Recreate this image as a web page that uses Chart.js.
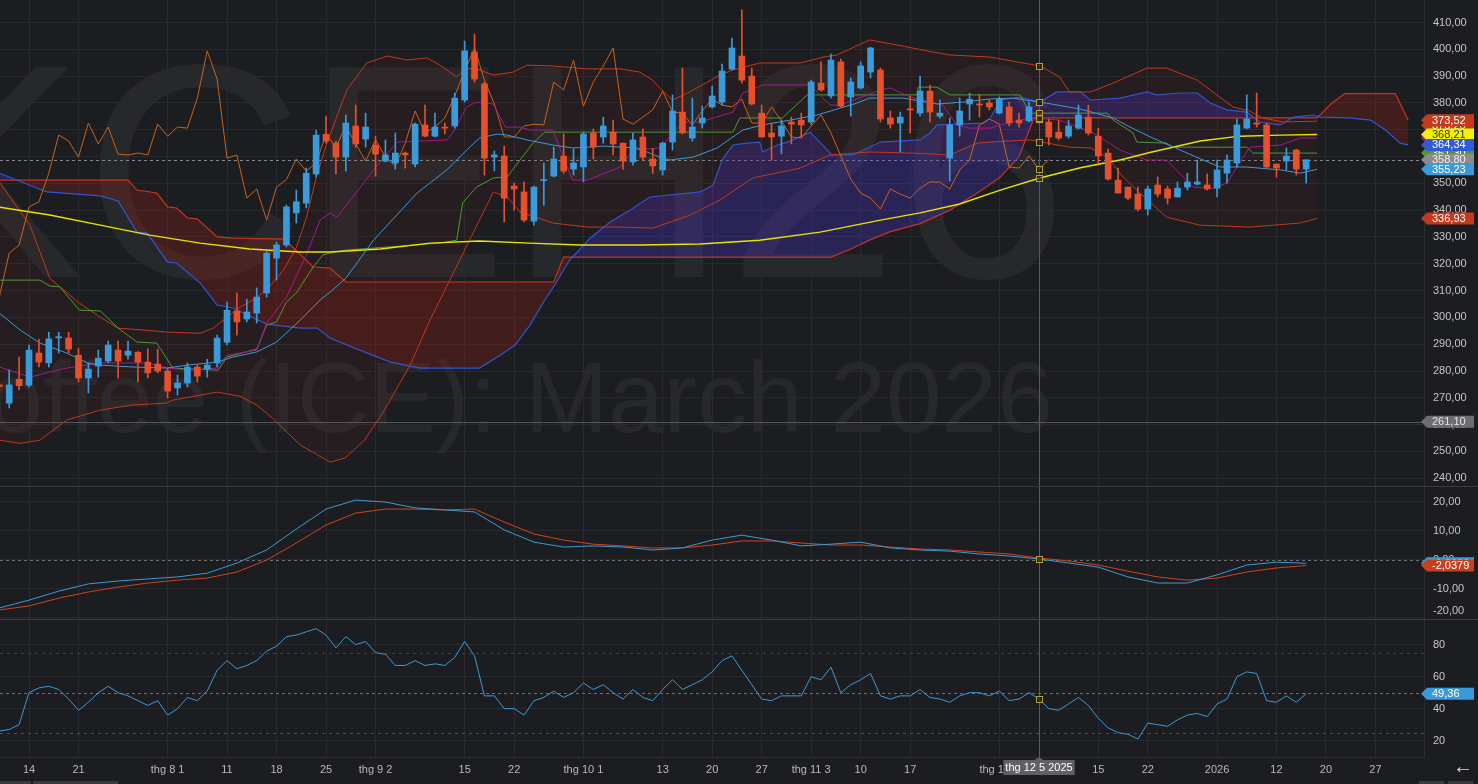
<!DOCTYPE html>
<html>
<head>
<meta charset="utf-8">
<title>KCEH26 - Coffee (ICE): March 2026</title>
<script src="https://cdn.jsdelivr.net/npm/chart.js@4.4.1/dist/chart.umd.min.js"></script>
<style>
  html, body { margin:0; padding:0; background:#1c1d21; }
  #wrap { position:relative; width:1478px; height:784px; overflow:hidden; background:#1c1d21; font-family:"Liberation Sans", Arial, sans-serif; }
  canvas { position:absolute; left:0; display:block; }
  #c1 { top:0; }
  #c2 { top:487px; }
  #c3 { top:620px; }
  .sep { position:absolute; left:0; width:1478px; height:1px; background:#3b3c41; }
  .sbar { position:absolute; height:3px; top:781px; background:#3a3b3f; }
  #arrow { position:absolute; left:1453px; top:755px; color:#dcdcdc; font-size:20px; line-height:22px; }
</style>
</head>
<body>
<div id="wrap">
  <canvas id="c1" width="1478" height="486"></canvas>
  <div class="sep" style="top:486px"></div>
  <canvas id="c2" width="1478" height="132"></canvas>
  <div class="sep" style="top:619px"></div>
  <canvas id="c3" width="1478" height="164"></canvas>
  <div class="sbar" style="left:0;width:31px"></div>
  <div class="sbar" style="left:33px;width:85px"></div>
  <div class="sbar" style="left:1419px;width:25px"></div>
  <div class="sbar" style="left:1448px;width:25px"></div>
  <div id="arrow">←</div>
</div>
<script>
// ---------------- DATA ----------------
const symbolText = "KCEH26";
const nameText = "Coffee (ICE): March 2026";

// trading-day index of x tick labels and their text
const xTickIdx  = [3, 8, 17, 23, 28, 33, 38, 47, 52, 59, 67, 72, 77, 82, 87, 92, 101, 111, 116, 123, 129, 134, 139];
const xTickText = ['14','21','thg 8 1','11','18','25','thg 9 2','15','22','thg 10 1','13','20','27','thg 11 3','10','17','thg 12 1','15','22','2026','12','20','27'];
const crossIdx = 105;
const crossLabel = 'thg 12 5 2025';

const priceTicks = [240,250,260,270,280,290,300,310,320,330,340,350,360,370,380,390,400,410];
const macdTicks = [-20,-10,0,10,20];
const rsiTicks = [20,40,60,80];

// daily candles (index 0 = 9 Jul 2025 ... 132 = 15 Jan 2026)
const open = [
 274.8,268.0,276.9,274.7,286.7,283.0,292.4,292.3,285.9,277.4,
 281.8,283.7,287.8,285.9,287.0,283.3,282.6,280.0,273.7,275.5,
 281.5,280.7,283.0,290.7,302.4,299.4,301.6,309.1,322.1,327.0,
 339.0,342.6,353.5,368.3,365.0,359.8,371.4,366.5,364.3,358.3,
 357.6,361.3,357.2,371.8,367.6,371.0,371.4,381.1,399.0,387.1,
 359.8,360.2,349.0,346.8,335.9,351.0,352.7,360.2,355.3,356.1,
 368.8,367.3,369.1,365.0,358.0,367.3,359.1,355.0,365.4,376.6,
 366.9,372.5,378.5,380.3,392.6,397.5,390.0,376.2,368.8,367.6,
 372.9,373.6,372.9,387.4,382.6,395.3,382.2,385.6,391.5,392.3,
 374.4,372.5,377.8,376.2,384.4,375.1,359.4,371.8,379.6,379.6,
 380.0,376.2,378.5,373.6,373.3,376.2,372.9,369.1,367.6,370.6,
 374.7,367.6,361.3,351.2,348.6,346.0,340.4,349.4,347.9,344.9,
 348.6,349.7,349.4,348.2,353.8,357.6,370.6,372.5,371.8,357.2,
 358.3,362.4,355.3];
const high = [
 276.0,280.4,285.2,289.7,291.9,294.5,294.5,294.5,288.5,283.0,
 287.8,291.2,291.2,291.2,287.2,288.2,288.2,281.1,278.5,283.0,
 282.2,284.4,293.4,305.7,309.1,306.8,311.0,324.7,328.1,341.9,
 347.5,355.7,369.9,375.1,365.8,375.5,379.2,376.2,367.6,366.2,
 368.8,361.7,372.5,379.2,376.2,372.5,383.7,403.1,405.7,387.8,
 362.1,363.9,350.1,350.5,349.0,357.6,363.5,368.4,362.8,369.1,
 370.3,374.7,373.6,365.0,368.8,370.3,363.0,365.4,383.0,393.0,
 381.8,378.8,386.3,394.5,404.2,414.7,393.0,379.2,372.5,373.6,
 374.7,376.2,388.5,395.3,398.2,396.4,389.3,395.3,400.8,393.0,
 377.0,376.6,382.6,390.0,386.7,381.1,374.4,381.8,383.7,383.0,
 381.4,382.2,380.3,376.2,380.3,377.4,374.0,373.6,373.6,379.2,
 379.2,370.6,362.8,355.7,348.6,348.6,349.0,352.4,349.0,350.5,
 353.8,358.7,353.5,358.7,360.6,374.0,383.0,383.7,372.5,357.2,
 363.2,362.8,358.7];
const low = [
 272.5,266.2,272.9,274.0,281.5,281.5,286.7,286.7,275.9,271.8,
 277.7,283.0,277.4,284.4,275.9,277.4,279.3,269.9,271.0,274.0,
 275.9,277.7,281.5,289.7,293.4,298.3,297.9,307.6,313.9,326.3,
 335.2,340.8,352.4,365.0,353.5,354.6,363.5,363.5,352.7,358.0,
 355.3,355.7,356.1,367.3,367.3,368.4,370.6,380.3,387.8,353.1,
 354.6,335.6,340.0,335.6,334.4,341.9,352.4,353.8,353.1,350.5,
 359.1,365.0,360.6,355.3,356.8,358.7,353.7,353.1,362.4,368.4,
 365.8,370.6,378.1,379.2,392.3,387.4,379.2,367.3,358.7,361.0,
 364.7,367.3,372.1,384.4,381.8,378.5,375.1,385.2,389.3,372.9,
 370.6,361.7,368.8,375.1,372.9,374.4,350.9,367.6,373.6,374.7,
 377.4,375.9,371.4,371.0,372.9,372.5,364.3,366.2,366.9,370.3,
 368.0,357.6,351.2,346.4,343.8,339.7,338.2,344.9,342.3,344.9,
 347.5,349.4,347.5,344.9,350.1,356.1,370.3,371.0,355.7,352.4,
 355.0,353.1,350.1];
const close = [
 274.2,274.8,274.5,287.8,283.3,292.0,292.8,288.2,277.4,280.7,
 284.8,289.7,283.7,287.4,283.3,279.3,280.0,272.5,275.5,281.5,
 278.1,282.2,292.3,302.7,298.3,302.0,307.6,324.0,327.0,341.2,
 343.1,353.8,368.0,365.8,359.8,372.5,364.7,371.0,360.9,360.6,
 361.3,360.6,372.1,367.6,371.0,370.6,381.8,399.4,388.9,359.4,
 360.6,344.5,347.9,336.3,348.6,351.4,359.1,354.6,357.6,368.4,
 363.5,371.4,364.7,358.3,366.2,359.8,356.5,365.0,377.0,368.8,
 371.0,374.4,382.6,391.9,400.5,388.5,379.6,367.3,367.3,371.4,
 372.1,371.8,387.8,384.8,396.0,378.8,387.8,393.8,400.5,374.0,
 372.1,374.7,377.4,384.4,376.6,376.2,371.8,377.0,381.4,379.2,
 378.5,381.4,372.5,372.5,378.5,373.3,367.3,366.9,371.4,375.5,
 368.8,360.2,351.6,346.4,344.5,340.4,347.9,346.0,344.5,348.2,
 350.5,350.5,347.9,355.0,358.7,371.8,374.0,372.1,356.1,355.7,
 360.2,355.3,358.8];

const chikouShift = 26;
const supportLevel = 261.10;

// indicator lines: [trading-day index, value]
const senkouA = [[0,353.8],[4.8,346.8],[10.2,345.3],[12,343.4],[13.9,331.8],[14.9,331.5],[17,320.6],[17.9,320.3],[20.3,312.8],[22,304.6],[23.6,303.5],[27,297.5],[30.4,296],[32.1,296],[33.4,292.3],[36.4,287.8],[39.5,283.3],[42.5,281.1],[48.5,281.1],[50.6,285.9],[52.1,289.7],[53.6,297.1],[55.1,306.5],[56.1,312.1],[57.6,321.4],[59.7,329.6],[61.7,335.6],[63.7,340],[65.7,344.9],[70.8,346.8],[72.1,349.4],[73,358.7],[74.1,364.3],[75.5,365],[76.8,365.4],[77.1,361.7],[78.6,364.3],[79.6,365.4],[81.9,369.1],[84.1,360.6],[86.2,360.6],[89,365.4],[93,366.2],[94,368.8],[94.7,371.8],[99.4,372.5],[100.1,374.4],[101.1,381.1],[103.1,382.2],[105.1,380.3],[106.8,384.1],[109.2,384.1],[110.2,381.1],[113.2,381.8],[115.9,384.1],[116.9,383],[119.3,383.7],[121,383.7],[122.3,380],[124,377.4],[126,376.6],[127.3,372.9],[129.4,371.8],[130.7,374.7],[132.7,375.5],[133.4,374.7],[136.4,374.4],[138.5,373.6],[140,369.9],[141.5,365],[142.3,364.34]];
const senkouB = [[0,351.2],[13,351.2],[13.9,347.5],[15.9,346.4],[17,341.2],[17.9,340.8],[19,337.1],[20,336.7],[22,330],[23.6,329.6],[28.7,329.2],[29.4,327],[31.7,318.8],[33.4,318.4],[35,313.2],[56,313.2],[57,322.5],[84,322.5],[86,325.5],[88,329],[90,332],[93,335],[96,340],[99,347],[101,352],[103,360],[104.5,374.4],[133.1,374.4],[134.5,379.6],[135.9,383.5],[141,383.5],[142.3,373.52]];
const tenkan = [[0,281.5],[3.1,277.7],[5.1,279.6],[6.8,281.1],[10.2,283],[14.9,283],[17,281.1],[19,280.3],[22,281.1],[23,285.9],[26,287.8],[27,297.9],[29,307.6],[31.1,324],[32.4,336.3],[33.4,338.9],[34.1,337.4],[35.7,344.9],[37.8,355],[40.2,365.4],[45.2,366.2],[45.8,368.8],[47.2,378.5],[48.2,380.3],[49.9,379.6],[51.1,371],[52.6,371],[53.6,369.9],[55.9,369.9],[57.9,351.2],[59.4,351.2],[62.7,356.1],[64,362.4],[66.7,363.2],[69.1,372.9],[70.8,372.9],[74.1,376.6],[75.1,383.7],[77.1,386.7],[81.9,386.7],[83.9,379.2],[84.9,379.2],[89,384.8],[90,385.6],[92,382.2],[95.3,379.2],[96.7,371.8],[98,370.6],[100.1,370.6],[101.1,371.8],[104.1,374.4],[107.1,373.6],[110.5,368.8],[113.2,362.4],[115.9,358.7],[117.9,358.7],[120.6,348.6],[122.6,348.2],[124,350.1],[125,356.1],[126.3,363.5],[129.4,364.3],[131.4,366.9],[133.1,366.9]];
const kijun = [[0,313.9],[4.1,313.9],[5.1,311.7],[6.1,311.4],[8.1,302.7],[10.2,302.4],[12,296],[13.9,290.8],[15.9,290.4],[17,284.1],[17.5,281.1],[22.1,280.3],[23,285.2],[26,288.2],[27,297.1],[28,298.3],[29,305.7],[30,309.1],[31.7,318.8],[32.7,323.3],[33.4,324],[35,325.1],[44.5,327.7],[46.2,328.8],[46.8,342.7],[48.2,348.6],[49.9,352],[51.3,352.4],[52.6,358.7],[53.9,365],[55.1,369.1],[74.1,369.1],[74.8,374.4],[79.1,374.4],[81.6,383],[92.7,383],[92.8,385.9],[94.7,385.9],[96,383],[103.1,383],[104.1,376.2],[111.9,376.2],[112.5,373.6],[114.5,368.8],[114.9,365.4],[117.9,365],[118.5,363.5],[126,363.5],[126.6,361.3],[133.1,361.3]];
const bbUpper = [[0,350.5],[3.1,334.4],[5.1,314.6],[8.1,305.3],[10.2,300.1],[12,296],[14.5,295.3],[17,294.5],[20.3,294.1],[21.6,296],[23,300.1],[24.3,303.8],[25.6,306.5],[27,310.2],[28.7,317.7],[30,326],[31,337],[32,352],[33,364],[34,374],[35.1,384.8],[37.1,394.9],[39.2,397.5],[41.2,396],[43.2,396.8],[44.5,394.1],[46.2,389.7],[47.2,393],[48.5,392.3],[49.9,390.4],[51.9,391.5],[53.3,394.1],[55.9,393.8],[59.4,392.7],[62.7,392.7],[64.7,391.5],[66,388.5],[66.7,385.6],[68,381.1],[69.5,383.7],[71,386.7],[72.8,390.4],[74.1,392.3],[76.8,394.9],[80.9,394.9],[83.2,397.1],[84.6,397.9],[87.9,403.5],[90.7,401.6],[94.3,399],[96,397.9],[100.1,397.1],[103.4,394.9],[105.1,393.8],[107.1,389.7],[108.1,384.1],[110.2,384.1],[112.5,387.4],[115.9,393],[117.9,393],[121,388.5],[124.6,378.5],[126.3,377],[127.6,374.4],[129.7,372.9],[133.1,373.2]];
const bbLower = [[0,254.2],[2.1,253],[4.1,254.2],[6.8,261.7],[10.2,265.4],[13.4,267.3],[16.9,268],[17.5,269.1],[22,272.1],[24.3,270.6],[26,267.3],[27.6,262.4],[30.4,252.4],[33.4,246],[34.9,247.5],[36.9,254.2],[38.9,265.4],[41.5,282.2],[43.5,299],[45.5,313.9],[47.5,328.8],[49.9,346.8],[51.3,344.9],[52.6,339.3],[55.9,335.2],[59.4,333.7],[62.7,333.7],[66,333.3],[69.8,338.2],[72.8,343.8],[76.1,352],[80.9,355.7],[83.9,360.6],[87.9,361.7],[92,361.3],[96,360.6],[98.8,365],[100.1,365.4],[104.1,366.2],[108.1,363.5],[110.2,363.2],[111.9,359.8],[113.5,352.4],[115.2,346.4],[117.9,337.4],[121.3,334.4],[126.3,333.7],[131.4,335.2],[133.1,336.93]];
const sma20 = [[0,301.6],[2.1,295.3],[4.1,290.4],[6.8,286.7],[8.9,283],[10.2,282.2],[13.4,281.5],[16.9,281.1],[19,282.2],[22,283.3],[23.6,285.2],[26,287.1],[28,290.8],[30.4,299],[32.4,306.5],[33.4,309.4],[35,314.6],[37.8,328.8],[42.2,346.4],[45.2,355],[47.2,362.4],[48.5,366.9],[50.3,368.4],[51.3,368],[53.3,366.2],[55.9,364.3],[57.9,363.2],[61,363.9],[64.4,363.2],[66.7,359.8],[67.7,358.7],[70.1,359.8],[72.5,363.2],[75.1,369.9],[77.1,371.8],[79.9,373.6],[82.6,375.5],[84.6,377.7],[86.6,379.9],[87.9,381.8],[91.3,381.8],[94.7,379.6],[97.3,380.3],[100.1,381.5],[102.4,381.8],[105.8,379.9],[109.2,377.7],[112.5,374.4],[114.2,371],[116.5,366.9],[119.3,362.4],[121.6,358.7],[123.3,356.1],[126,356.1],[129.4,355],[131.4,353.8],[133.1,355.23]];
const smaLong = [[0,341.1],[5.1,338.2],[10.2,334.4],[15.2,330.7],[20.3,327.7],[25.3,325.5],[30.4,324.4],[33.4,324.4],[38.5,325.5],[43.5,327.7],[48.5,328.5],[53.6,327.7],[58.6,327],[64.7,327],[70.8,327.4],[76.8,328.8],[82.9,331.8],[89,336.3],[93,339],[97,342.3],[101.1,347.5],[105.1,352],[109.2,355.8],[113.2,358.7],[116.2,361.5],[121.3,365.8],[125.3,367.6],[129.4,368],[133.1,368.21]];

// MACD (every 3rd trading day, last = day 132)
const macdLine = [-16.7,-14,-10.9,-8.4,-7.4,-6.7,-6,-4.7,-1.2,3.3,10.5,17.4,20.5,19.8,17.8,17.1,16.4,10.2,6,4.3,4.7,4.3,3.3,4,6.7,8.4,6.7,4.7,5.3,6,4,3.3,2.9,1.9,1.2,0.2,-1.2,-2.6,-6,-8.1,-8.1,-5.3,-1.9,-0.9,-1.3];
const macdSignal = [-17.4,-16,-13.3,-11.2,-9.5,-8.1,-7.1,-6.4,-4.3,-0.2,5.7,11.9,16,17.4,17.4,17.1,17.4,12.9,8.8,6.7,5.3,4.7,4,4,5,6.4,6.4,5.7,5,5,4.3,3.6,3.3,2.6,1.9,0.5,-0.5,-1.9,-4,-6,-7.1,-6.4,-4.3,-2.9,-2.0379];
const macdStep = 3;

// RSI per trading day
const rsi = [
 26,27,30,50,53,54,52,46,39,44,
 50,54,50,48,45,42,45,36,40,47,
 45,51,64,70,65,67,70,76,79,85,
 86,88,90,86,78,85,80,82,75,74,
 67,67,70,67,68,67,72,82,73,48,
 48,40,40,36,45,47,51,47,50,56,
 52,55,50,46,52,47,45,52,58,52,
 55,58,63,70,73,64,55,46,45,48,
 48,48,60,58,66,50,55,58,62,48,
 46,48,48,52,47,46,44,48,50,50,
 48,51,45,46,50,46,40,39,43,47,
 42,34,28,25,24,21,31,30,29,33,
 36,37,35,43,46,60,63,62,45,44,
 48,44,49.36];
const rsiLevels = [75, 50, 25];

// ---------------- STYLE ----------------
const GRID = '#292a2e';
const AXIS_W = 54;
const X_MIN = 0.07, X_MAX = 143.9;
const UP = '#3b9ad9', DOWN = '#e5502d';
const FONT = '"Liberation Sans", Arial, sans-serif';

Chart.defaults.font.family = FONT;
Chart.defaults.font.size = 11;
Chart.defaults.color = '#c4c4c4';

const fmt2 = v => v.toFixed(2).replace('.', ',');
const pairs = arr => arr.map(p => ({x: p[0], y: p[1]}));
const noPad = s => { s.paddingTop = 0; s.paddingBottom = 0; s.paddingLeft = 0; s.paddingRight = 0; };

function xAxis(showLabels) {
  return {
    type: 'linear', min: X_MIN, max: X_MAX, offset: false,
    grid: {color: GRID, drawTicks: false, offset: false},
    border: {display: showLabels, color: '#2c2d31'},
    afterBuildTicks: s => { s.ticks = xTickIdx.map(v => ({value: v})); },
    afterFit: s => { s.height = showLabels ? 27 : 0; noPad(s); },
    ticks: {display: showLabels, autoSkip: false, maxRotation: 0, minRotation: 0,
      color: '#b9b9b9', padding: 6,
      callback: v => { const k = xTickIdx.indexOf(v); return k >= 0 ? xTickText[k] : ''; }}
  };
}
function yAxis(min, max, ticks, cb) {
  return {
    position: 'right', min, max,
    afterFit: s => { s.width = AXIS_W; noPad(s); },
    afterBuildTicks: s => { s.ticks = ticks.map(v => ({value: v})); },
    grid: {color: GRID, drawTicks: false},
    border: {display: true, color: '#2c2d31'},
    ticks: {color: '#c6c6c6', padding: 9, callback: cb}
  };
}
const baseOpts = {
  responsive: false, animation: false, devicePixelRatio: 1, events: [],
  layout: {padding: 0},
  plugins: {legend: {display: false}, tooltip: {enabled: false}},
  elements: {point: {radius: 0}, line: {tension: 0, borderWidth: 1}}
};

function valueAt(data, x) {
  for (let i = 0; i < data.length - 1; i++) {
    const a = data[i], b = data[i + 1];
    if (a.x <= x && b.x >= x) {
      const t = b.x === a.x ? 0 : (x - a.x) / (b.x - a.x);
      return a.y + t * (b.y - a.y);
    }
  }
  return null;
}
function drawTag(ctx, y, text, bg, fg) {
  const x0 = 1421, h = 12;
  ctx.save();
  ctx.fillStyle = bg;
  ctx.beginPath();
  ctx.moveTo(x0, y); ctx.lineTo(x0 + 6, y - h / 2); ctx.lineTo(1474, y - h / 2);
  ctx.lineTo(1474, y + h / 2); ctx.lineTo(x0 + 6, y + h / 2); ctx.closePath(); ctx.fill();
  ctx.fillStyle = fg; ctx.font = '11px ' + FONT;
  ctx.textAlign = 'left'; ctx.textBaseline = 'middle';
  ctx.fillText(text, 1432, y + 0.5);
  ctx.restore();
}
function hLine(chart, value, color, dash) {
  const {ctx, chartArea: a, scales: {y}} = chart;
  const py = Math.round(y.getPixelForValue(value)) + 0.5;
  ctx.save(); ctx.strokeStyle = color; ctx.lineWidth = 1; ctx.setLineDash(dash || []);
  ctx.beginPath(); ctx.moveTo(a.left, py); ctx.lineTo(a.right, py); ctx.stroke(); ctx.restore();
}
function crossLine(chart, bottomExtra) {
  const {ctx, chartArea: a, scales: {x}} = chart;
  const px = Math.round(x.getPixelForValue(crossIdx)) + 0.5;
  ctx.save(); ctx.strokeStyle = '#5a5b60'; ctx.lineWidth = 1;
  ctx.beginPath(); ctx.moveTo(px, 0); ctx.lineTo(px, a.bottom + (bottomExtra || 0)); ctx.stroke(); ctx.restore();
}
function crossMarkers(chart) {
  const {ctx, scales: {x, y}} = chart;
  const px = x.getPixelForValue(crossIdx);
  ctx.save(); ctx.strokeStyle = '#b3a32a'; ctx.lineWidth = 1; ctx.fillStyle = 'rgba(20,20,20,0.5)';
  chart.data.datasets.forEach(ds => {
    if (!ds.marker) return;
    const v = valueAt(ds.data, crossIdx);
    if (v === null) return;
    const py = y.getPixelForValue(v);
    ctx.fillRect(Math.round(px) - 3, Math.round(py) - 3, 6, 6);
    ctx.strokeRect(Math.round(px) - 2.5, Math.round(py) - 2.5, 6, 6);
  });
  ctx.restore();
}
const last = arr => arr[arr.length - 1][1];

// ---------------- MAIN PRICE PANE ----------------
const lineDs = (label, data, color, width, extra) => Object.assign({
  type: 'line', label, data: pairs(data), borderColor: color, borderWidth: width || 1,
  pointRadius: 0, fill: false, marker: true
}, extra || {});

const mainPlugin = {
  id: 'mainDecor',
  beforeDraw(chart) {
    const {ctx} = chart;
    ctx.save();
    ctx.fillStyle = 'rgba(255,255,255,0.05)';
    ctx.textAlign = 'center'; ctx.textBaseline = 'alphabetic';
    ctx.font = '305px ' + FONT;
    ctx.fillText(symbolText, 474, 277);
    ctx.font = '100px ' + FONT;
    ctx.fillText(nameText, 484, 432);
    ctx.restore();
  },
  beforeDatasetsDraw(chart) {
    hLine(chart, supportLevel, '#56575c');
    hLine(chart, close[close.length - 1], '#85868a', [3, 3]);
  },
  afterDatasetsDraw(chart) {
    crossLine(chart, 0);
    crossMarkers(chart);
  },
  afterDraw(chart) {
    const {ctx, scales: {y}} = chart;
    const Y = v => y.getPixelForValue(v);
    drawTag(ctx, Y(last(bbUpper)) + 4, fmt2(last(bbUpper)), '#c4391c', '#fff');
    drawTag(ctx, Y(last(tenkan)), fmt2(last(tenkan)), '#a0188a', '#fff');
    drawTag(ctx, Y(last(kijun)), fmt2(last(kijun)), '#4c9a34', '#fff');
    drawTag(ctx, Y(last(senkouB)), fmt2(last(senkouB)), '#c63a1c', '#fff');
    drawTag(ctx, Y(last(smaLong)), fmt2(last(smaLong)), '#f2f200', '#333');
    drawTag(ctx, Y(last(senkouA)), fmt2(last(senkouA)), '#2f5bd8', '#fff');
    drawTag(ctx, Y(close[close.length - 1]), fmt2(close[close.length - 1]), '#8b8b8b', '#eeeeee');
    drawTag(ctx, Y(last(sma20)), fmt2(last(sma20)), '#3a9ad9', '#fff');
    drawTag(ctx, Y(last(bbLower)), fmt2(last(bbLower)), '#c4391c', '#fff');
    drawTag(ctx, Y(supportLevel), fmt2(supportLevel), '#6c6d71', '#e6e6e6');
  }
};

const candleColor = i => close[i] >= open[i] ? UP : DOWN;
new Chart(document.getElementById('c1'), {
  type: 'line',
  data: {
    datasets: [
      {type: 'bar', label: 'body', data: close.map((c, i) => ({x: i, y: [open[i], c]})),
        backgroundColor: c => candleColor(c.dataIndex), borderWidth: 0, barThickness: 6, grouped: false, minBarLength: 1},
      {type: 'bar', label: 'wick', data: close.map((c, i) => ({x: i, y: [low[i], high[i]]})),
        backgroundColor: c => candleColor(c.dataIndex), borderWidth: 0, barThickness: 1, grouped: false},
      lineDs('SMA20', sma20, '#3d9ad6', 1),
      lineDs('SMA', smaLong, '#e8e400', 1.4),
      lineDs('Tenkan', tenkan, '#a3198c', 1),
      lineDs('Kijun', kijun, '#4d9b35', 1),
      {type: 'line', label: 'Chikou', data: close.slice(chikouShift).map((c, i) => ({x: i, y: c})),
        borderColor: '#c9631c', borderWidth: 1, pointRadius: 0, fill: false, marker: true},
      lineDs('BB upper', bbUpper, '#c4391c', 1, {fill: {target: 8, above: 'rgba(160,45,30,0.07)', below: 'rgba(160,45,30,0.07)'}}),
      lineDs('BB lower', bbLower, '#c4391c', 1),
      lineDs('Senkou A', senkouA, '#2f56d6', 1.2, {fill: {target: 10, above: 'rgba(75,50,205,0.30)', below: 'rgba(165,30,20,0.27)'}}),
      lineDs('Senkou B', senkouB, '#d03b18', 1.2)
    ]
  },
  options: Object.assign({}, baseOpts, {
    scales: {
      x: xAxis(false),
      y: yAxis(237.1, 418.4, priceTicks, v => fmt2(v))
    }
  }),
  plugins: [mainPlugin]
});

// ---------------- MACD PANE ----------------
const macdIdx = macdLine.map((_, i) => Math.min(i * macdStep, close.length - 1));
const macdPlugin = {
  id: 'macdDecor',
  beforeDatasetsDraw(chart) { hLine(chart, 0, '#6d6e72', [3, 3]); },
  afterDatasetsDraw(chart) { crossLine(chart, 0); crossMarkers(chart); },
  afterDraw(chart) {
    const {ctx, chartArea: a, scales: {y}} = chart;
    ctx.save(); ctx.fillStyle = '#c6c6c6'; ctx.font = '11px ' + FONT; ctx.textBaseline = 'middle'; ctx.textAlign = 'left';
    ctx.fillText(fmt2(-20), a.right + 9, Math.min(y.getPixelForValue(-20), a.bottom - 8));
    ctx.restore();
    const lm = macdLine[macdLine.length - 1], ls = macdSignal[macdSignal.length - 1];
    drawTag(ctx, y.getPixelForValue(lm), lm.toFixed(4).replace('.', ','), '#3a9ad9', '#fff');
    drawTag(ctx, y.getPixelForValue(ls), ls.toFixed(4).replace('.', ','), '#c8401e', '#fff');
  }
};
new Chart(document.getElementById('c2'), {
  type: 'line',
  data: {
    datasets: [
      {label: 'MACD', data: macdLine.map((v, i) => ({x: macdIdx[i], y: v})), borderColor: '#3d9ad6', borderWidth: 1, pointRadius: 0, marker: true},
      {label: 'Signal', data: macdSignal.map((v, i) => ({x: macdIdx[i], y: v})), borderColor: '#d2421c', borderWidth: 1, pointRadius: 0}
    ]
  },
  options: Object.assign({}, baseOpts, {
    scales: {
      x: xAxis(false),
      y: yAxis(-20.5, 25, macdTicks, v => v === -20 ? '' : fmt2(v))
    }
  }),
  plugins: [macdPlugin]
});

// ---------------- RSI PANE ----------------
const rsiPlugin = {
  id: 'rsiDecor',
  beforeDatasetsDraw(chart) {
    hLine(chart, rsiLevels[0], '#7d2a22', [3, 4]);
    hLine(chart, rsiLevels[1], '#6d6e72', [3, 3]);
    hLine(chart, rsiLevels[2], '#2b5784', [3, 4]);
  },
  afterDatasetsDraw(chart) { crossLine(chart, 0); crossMarkers(chart); },
  afterDraw(chart) {
    const {ctx, chartArea: a, scales: {x, y}} = chart;
    const lv = rsi[rsi.length - 1];
    drawTag(ctx, y.getPixelForValue(lv), fmt2(lv), '#3a9ad9', '#fff');
    const px = Math.round(x.getPixelForValue(crossIdx));
    ctx.save();
    ctx.font = '11px ' + FONT;
    const w = ctx.measureText(crossLabel).width + 4;
    const top = a.bottom + 3;
    ctx.fillStyle = '#606166';
    ctx.beginPath(); ctx.moveTo(px, a.bottom); ctx.lineTo(px + 4, top); ctx.lineTo(px - 4, top); ctx.closePath(); ctx.fill();
    ctx.fillRect(px - w / 2, top, w, 15);
    ctx.fillStyle = '#ffffff'; ctx.textAlign = 'center'; ctx.textBaseline = 'middle';
    ctx.fillText(crossLabel, px, top + 8);
    ctx.restore();
  }
};
new Chart(document.getElementById('c3'), {
  type: 'line',
  data: {
    datasets: [
      {label: 'RSI', data: rsi.map((v, i) => ({x: i, y: v})), borderColor: '#3d9ad6', borderWidth: 1, pointRadius: 0, marker: true}
    ]
  },
  options: Object.assign({}, baseOpts, {
    scales: {
      x: xAxis(true),
      y: yAxis(9.8, 95.4, rsiTicks, v => String(v))
    }
  }),
  plugins: [rsiPlugin]
});
</script>
</body>
</html>
